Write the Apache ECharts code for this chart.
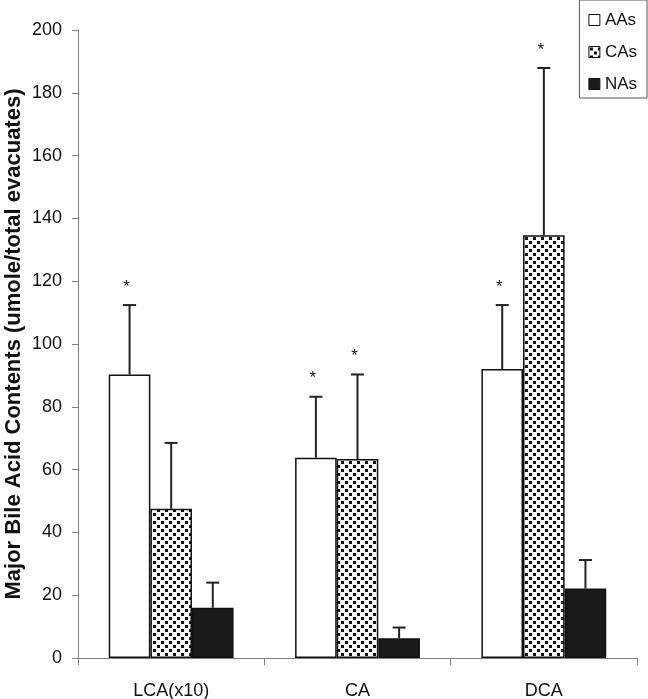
<!DOCTYPE html>
<html><head><meta charset="utf-8">
<script src="https://cdn.jsdelivr.net/npm/echarts@6/dist/echarts.min.js"></script>
<style>html,body{margin:0;padding:0;background:#fff}#c{width:648px;height:699px}</style>
</head><body><div id="c"></div>
<script>
const categories = ['LCA(x10)', 'CA', 'DCA'];
const seriesNames = ['AAs', 'CAs', 'NAs'];
const aasMean = [90.3, 63.8, 92.0];
const aasErr  = [22.1, 19.4, 20.4];
const casMean = [47.5, 63.4, 134.6];
const casErr  = [21.0, 26.9, 53.3];
const nasMean = [16.0, 6.3, 22.1];
const nasErr  = [8.0, 3.4, 9.1];
const aasSig = [true, true, true];
const casSig = [false, true, true];
const nasSig = [false, false, false];
const yTicks = [0, 20, 40, 60, 80, 100, 120, 140, 160, 180, 200];
const yTitle = 'Major Bile Acid Contents (umole/total evacuates)';

const FONT = '"Liberation Sans", Arial, sans-serif';
const GAP = 0.33;

function makePattern() {
  const c = document.createElement('canvas');
  c.width = 8; c.height = 8;
  const g = c.getContext('2d');
  g.fillStyle = '#fff'; g.fillRect(0, 0, 8, 8);
  g.fillStyle = '#111';
  g.fillRect(1, 1, 3, 3);
  g.fillRect(5, 5, 3, 3);
  return c;
}
const pattern = { image: makePattern(), repeat: 'repeat' };

const fills = ['#ffffff', pattern, '#1a1a1a'];
const means = [aasMean, casMean, nasMean];
const errs = [aasErr, casErr, nasErr];
const sigs = [aasSig, casSig, nasSig];

const barSeries = seriesNames.map((n, k) => ({
  name: n, type: 'bar', data: means[k],
  barGap: '0%', barCategoryGap: (GAP * 100) + '%',
  itemStyle: { color: fills[k], borderColor: '#111', borderWidth: 1.5 },
  z: 2
}));

const errSeries = seriesNames.map((n, k) => ({
  name: n + ' err', type: 'custom', z: 3, silent: true,
  data: means[k].map((m, i) => [i, m, m + errs[k][i], sigs[k][i] ? 1 : 0]),
  encode: { x: 0, y: 1 },
  renderItem: function (params, api) {
    const i = api.value(0);
    const base = api.coord([i, api.value(1)]);
    const top = api.coord([i, api.value(2)]);
    const band = api.size([1, 0])[0];
    const bw = band * (1 - GAP) / 3;
    const x = base[0] + (k - 1) * bw;
    const ch = [
      { type: 'line', shape: { x1: x, y1: base[1], x2: x, y2: top[1] }, style: { stroke: '#222', lineWidth: 2 } },
      { type: 'line', shape: { x1: x - 6.5, y1: top[1], x2: x + 6.5, y2: top[1] }, style: { stroke: '#222', lineWidth: 2 } }
    ];
    if (api.value(3)) {
      ch.push({ type: 'text', x: x - 3, y: top[1] - 18,
        style: { text: '*', font: '17px ' + FONT, fill: '#111', align: 'center', verticalAlign: 'middle' } });
    }
    return { type: 'group', children: ch };
  }
}));

const chart = echarts.init(document.getElementById('c'));
chart.setOption({
  animation: false,
  backgroundColor: '#fff',
  grid: { left: 78, right: 11, top: 30, bottom: 41, containLabel: false, outerBoundsMode: 'none' },
  graphic: [{
    type: 'text', x: 14, y: 344, rotation: Math.PI / 2,
    style: { text: yTitle, font: 'bold 22px ' + FONT, fill: '#111', align: 'center', verticalAlign: 'middle' }
  }],
  legend: {
    data: seriesNames, orient: 'vertical', right: 1, top: 0,
    icon: 'rect', itemWidth: 11, itemHeight: 11, itemGap: 12,
    padding: [10, 10, 4, 9], borderColor: '#555', borderWidth: 1,
    backgroundColor: '#fff',
    itemStyle: { borderColor: '#111', borderWidth: 1 },
    textStyle: { fontSize: 17, color: '#111', fontFamily: FONT, lineHeight: 20 }
  },
  xAxis: {
    type: 'category', data: categories, boundaryGap: true,
    axisLine: { lineStyle: { color: '#808080', width: 1 } },
    axisTick: { show: true, alignWithLabel: false, length: 7, lineStyle: { color: '#808080' } },
    axisLabel: { fontSize: 18, color: '#111', fontFamily: FONT, margin: 24 }
  },
  yAxis: {
    type: 'value', min: 0, max: 200, interval: 20,
    axisLine: { show: true, lineStyle: { color: '#808080', width: 1 } },
    axisTick: { show: true, length: 6, lineStyle: { color: '#808080' } },
    splitLine: { show: false },
    axisLabel: { fontSize: 18, color: '#111', fontFamily: FONT, margin: 16,
      formatter: v => yTicks.includes(v) ? String(v) : '' }
  },
  series: barSeries.concat(errSeries)
});
</script>
</body></html>
